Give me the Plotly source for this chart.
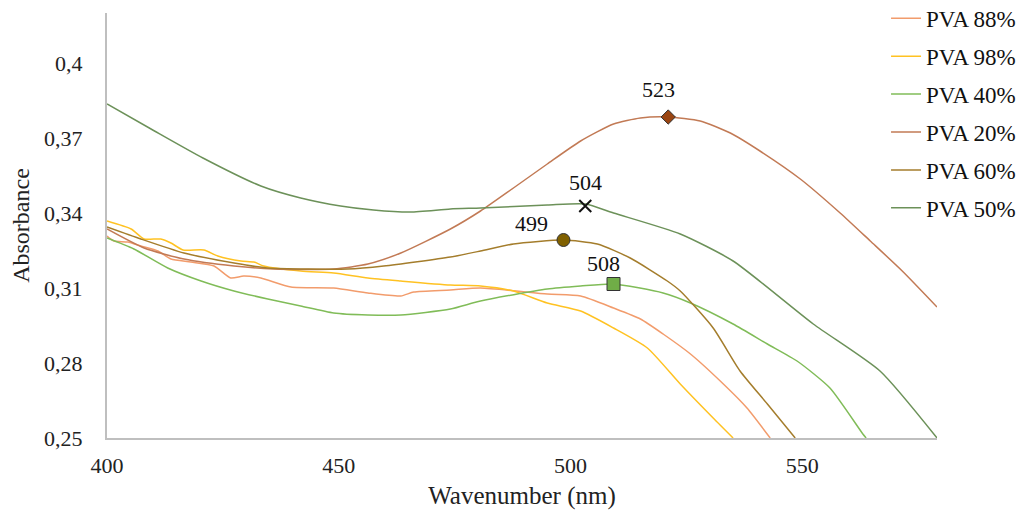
import plotly.graph_objects as go

# ---- data ----
x_88 = [400, 401.5, 404.5, 407.3, 411.0, 413.8, 418.1, 423.1, 426.7, 429.5, 433.2, 439.7, 448.9, 456.3,
        463.4, 466.2, 474.1, 480.6, 495.0, 502.2, 509.3, 515.1, 520.0, 525.9, 533.0, 538.1, 543.1]
y_88 = [0.3308, 0.3288, 0.3284, 0.3268, 0.3248, 0.3216, 0.3204, 0.3188, 0.3140, 0.3148, 0.3140, 0.3104,
        0.3100, 0.3080, 0.3068, 0.3084, 0.3092, 0.3100, 0.3076, 0.3068, 0.3020, 0.2976, 0.2916, 0.2836,
        0.2716, 0.2620, 0.2500]

x_98 = [400, 405.2, 408.0, 411.6, 413.8, 416.4, 420.9, 423.9, 428.9, 431.7, 433.8, 441.8, 448.9, 456.3,
        463.4, 474.1, 480.6, 487.7, 495.0, 502.2, 509.3, 516.6, 523.7, 530.8, 535.1]
y_98 = [0.3368, 0.3336, 0.3296, 0.3296, 0.3280, 0.3252, 0.3252, 0.3228, 0.3208, 0.3204, 0.3188, 0.3168,
        0.3160, 0.3140, 0.3128, 0.3112, 0.3108, 0.3088, 0.3040, 0.3008, 0.2940, 0.2860, 0.2716, 0.2580,
        0.2500]

x_40 = [400, 405.8, 413.1, 420.3, 427.4, 434.7, 441.8, 448.9, 456.3, 463.4, 474.1, 480.6, 495.0, 502.2,
        509.3, 520.0, 525.9, 535.1, 542.5, 548.9, 556.0, 563.1, 563.8]
y_40 = [0.3300, 0.3256, 0.3180, 0.3128, 0.3088, 0.3056, 0.3028, 0.3000, 0.2992, 0.2992, 0.3016, 0.3048,
        0.3096, 0.3108, 0.3116, 0.3080, 0.3040, 0.2956, 0.2876, 0.2808, 0.2700, 0.2516, 0.2500]

x_20 = [400, 408.0, 416.6, 427.4, 436.0, 448.9, 456.3, 463.4, 474.1, 480.6, 487.7, 495.0, 502.2, 509.3,
        515.1, 521.1, 528.0, 534.5, 540.9, 549.6, 558.2, 564.7, 571.6, 579.1]
y_20 = [0.3336, 0.3260, 0.3216, 0.3188, 0.3176, 0.3176, 0.3196, 0.3240, 0.3336, 0.3408, 0.3500, 0.3596,
        0.3688, 0.3756, 0.3780, 0.3784, 0.3768, 0.3720, 0.3648, 0.3536, 0.3400, 0.3288, 0.3168, 0.3024]

x_60 = [400, 407.3, 416.6, 427.4, 434.7, 451.9, 459.7, 474.1, 480.6, 487.7, 498.5, 505.8, 512.9, 520.9,
        523.7, 530.8, 536.6, 542.5, 548.5]
y_60 = [0.3344, 0.3296, 0.3240, 0.3200, 0.3180, 0.3176, 0.3188, 0.3224, 0.3248, 0.3276, 0.3292, 0.3276,
        0.3220, 0.3128, 0.3088, 0.2940, 0.2768, 0.2636, 0.2500]

x_50 = [400, 409.5, 420.7, 433.2, 441.8, 450.4, 457.5, 465.5, 474.1, 480.6, 495.0, 503.2, 509.3,
        523.7, 535.1, 552.4, 566.8, 579.1]
y_50 = [0.3836, 0.3736, 0.3620, 0.3508, 0.3460, 0.3428, 0.3412, 0.3404, 0.3416, 0.3420, 0.3432,
        0.3436, 0.3400, 0.3316, 0.3208, 0.2956, 0.2768, 0.2500]

series_names = ["PVA 88%", "PVA 98%", "PVA 40%", "PVA 20%", "PVA 60%", "PVA 50%"]
series_x = [x_88, x_98, x_40, x_20, x_60, x_50]
series_y = [y_88, y_98, y_40, y_20, y_60, y_50]
series_colors = ["#F29C6C", "#FFC222", "#80BC58", "#C27A55", "#A47D2C", "#6C9159"]

# peak markers
peak_labels = ["523", "504", "499", "508"]
peak_x = [521.1, 503.2, 498.5, 509.3]
peak_y = [0.3784, 0.3428, 0.3292, 0.3116]
peak_symbols = ["diamond", "x-thin", "circle", "square"]
peak_fill = ["#9A4512", "#000000", "#806000", "#70AD47"]
peak_size = [11, 12, 13, 13]
label_shift_x = [-10, 0, -32, -10]
label_shift_y = [28, 24, 17, 21]

x_ticks = [400, 450, 500, 550]
y_ticks = [0.25, 0.28, 0.31, 0.34, 0.37, 0.40]

FONT = "Liberation Serif, Times New Roman, serif"

fig = go.Figure()
for i, (name, xs, ys, col) in enumerate(zip(series_names, series_x, series_y, series_colors)):
    fig.add_trace(go.Scatter(x=xs, y=ys, mode="lines", name=name, legendgroup=name,
                             line=dict(color=col, width=1.5, shape="spline", smoothing=0.6)))

for lab, px, py, sym, fc, sz, dx, dy in zip(peak_labels, peak_x, peak_y, peak_symbols, peak_fill,
                                           peak_size, label_shift_x, label_shift_y):
    if sym == "x-thin":
        mk = dict(symbol=sym, size=sz, line=dict(color="#111111", width=2))
    else:
        mk = dict(symbol=sym, size=sz, color=fc, line=dict(color="#333333", width=1))
    fig.add_trace(go.Scatter(x=[px], y=[py], mode="markers", marker=mk, showlegend=False,
                             hoverinfo="skip"))
    fig.add_annotation(x=px, y=py, text=lab, showarrow=False, xshift=dx, yshift=dy,
                       font=dict(family=FONT, size=22, color="#111111"))

fig.update_layout(
    width=1029, height=512,
    margin=dict(l=99, r=100, t=5, b=82, autoexpand=False),
    paper_bgcolor="white", plot_bgcolor="white",
    separators=", ",
    font=dict(family=FONT, size=22, color="#222222"),
    legend=dict(x=0.9386, y=1.038, xanchor="left", yanchor="top",
                bgcolor="rgba(0,0,0,0)",
                font=dict(family=FONT, size=23, color="#111111"), tracegroupgap=5,
                itemwidth=30),
    showlegend=True,
)
fig.update_xaxes(range=[400, 579.1], tickvals=x_ticks, showgrid=False, zeroline=False,
                 showline=True, linecolor="#BFBFBF", linewidth=2, ticks="",
                 ticklabelstandoff=7,
                 tickfont=dict(family=FONT, size=22, color="#222222"),
                 title=dict(text="Wavenumber (nm)", font=dict(family=FONT, size=25, color="#222222"),
                            standoff=9))
fig.update_yaxes(range=[0.25, 0.42], tickvals=y_ticks, showgrid=False, zeroline=False,
                 showline=True, linecolor="#BFBFBF", linewidth=2, ticks="",
                 ticklabelstandoff=18,
                 tickfont=dict(family=FONT, size=22, color="#222222"),
                 title=dict(text="Absorbance", font=dict(family=FONT, size=24, color="#222222"),
                            standoff=8))

fig.write_html("out.html")
